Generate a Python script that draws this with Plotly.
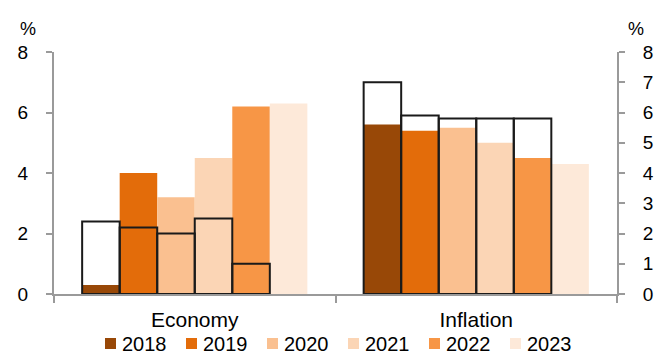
import plotly.graph_objects as go

categories = ["Economy", "Inflation"]
years = ["2018", "2019", "2020", "2021", "2022", "2023"]
colors = ["#984807", "#E36C0A", "#FAC090", "#FBD5B5", "#F79646", "#FDE9D9"]

# Filled bars: one value per category for each year
economy = [0.3, 4.0, 3.2, 4.5, 6.2, 6.3]
inflation = [5.6, 5.4, 5.5, 5.0, 4.5, 4.3]

# Outlined bars (earlier estimates), 2018-2022
economy_prev = [2.4, 2.2, 2.0, 2.5, 1.0]
inflation_prev = [7.0, 5.9, 5.8, 5.8, 5.8]

FONT = "Liberation Sans, Arial, sans-serif"

W, H = 663, 358
M_L, M_R, M_T, M_B = 54, 46, 52, 64
PLOT_W = W - M_L - M_R
PLOT_H = H - M_T - M_B


def px_to_paper(px, py):
    """Convert page pixels to paper coordinates."""
    return (px - M_L) / PLOT_W, (H - M_B - py) / PLOT_H


fig = go.Figure()

for i, yr in enumerate(years):
    fig.add_trace(go.Bar(
        x=categories, y=[economy[i], inflation[i]], name=yr,
        offsetgroup=yr, showlegend=False,
        marker=dict(color=colors[i], line=dict(width=0)),
        hoverinfo="skip",
    ))

for i, yr in enumerate(years[:len(economy_prev)]):
    fig.add_trace(go.Bar(
        x=categories, y=[economy_prev[i], inflation_prev[i]], name=yr + " (previous)",
        offsetgroup=yr, showlegend=False,
        marker=dict(color="rgba(0,0,0,0)", line=dict(color="#1a1a1a", width=2)),
        hoverinfo="skip",
    ))

# invisible trace to carry the right-hand axis
fig.add_trace(go.Scatter(x=categories, y=[None, None], yaxis="y2",
                         showlegend=False, hoverinfo="skip"))

# compact legend row: small square swatch followed by the year
shapes, annotations = [], []
LEG_X0, LEG_STEP, LEG_Y, SW = 105, 81, 343.5, 11
for i, yr in enumerate(years):
    x0, y0 = px_to_paper(LEG_X0 + i * LEG_STEP, LEG_Y + SW / 2)
    x1, y1 = px_to_paper(LEG_X0 + i * LEG_STEP + SW, LEG_Y - SW / 2)
    shapes.append(dict(type="rect", xref="paper", yref="paper",
                       x0=x0, x1=x1, y0=y0, y1=y1,
                       fillcolor=colors[i], line=dict(width=0)))
    tx, ty = px_to_paper(LEG_X0 + i * LEG_STEP + SW + 4, LEG_Y)
    annotations.append(dict(text=yr, xref="paper", yref="paper", x=tx, y=ty,
                            xanchor="left", yanchor="middle", showarrow=False,
                            font=dict(size=20)))

for px in (27.5, 636):
    ax, ay = px_to_paper(px, 29)
    annotations.append(dict(text="%", xref="paper", yref="paper", x=ax, y=ay,
                            xanchor="center", yanchor="middle", showarrow=False,
                            font=dict(size=18)))

axis_line = "#9a9a9a"
fig.update_layout(
    width=W, height=H,
    margin=dict(l=M_L, r=M_R, t=M_T, b=M_B, autoexpand=False),
    paper_bgcolor="white", plot_bgcolor="white",
    barmode="group", bargap=0.2, bargroupgap=0,
    font=dict(family=FONT, size=19, color="#000"),
    showlegend=False,
    xaxis=dict(
        type="category", showgrid=False, showline=True, linecolor=axis_line,
        linewidth=2, ticks="outside", tickson="boundaries", ticklen=7,
        tickcolor=axis_line, tickwidth=2, tickfont=dict(size=21),
        ticklabelstandoff=6,
    ),
    yaxis=dict(
        range=[0, 8], dtick=2, showgrid=False, zeroline=False, showline=True,
        linecolor=axis_line, linewidth=2, ticks="outside", ticklen=6,
        tickcolor=axis_line, tickwidth=2, ticklabelstandoff=14,
        tickfont=dict(size=19),
    ),
    yaxis2=dict(
        range=[0, 8], dtick=1, overlaying="y", side="right", showgrid=False,
        zeroline=False, showline=True, linecolor=axis_line, linewidth=2,
        ticks="outside", ticklen=6, tickcolor=axis_line, tickwidth=2,
        ticklabelstandoff=14, tickfont=dict(size=19),
    ),
    shapes=shapes,
    annotations=annotations,
)

fig.write_html("out.html")
